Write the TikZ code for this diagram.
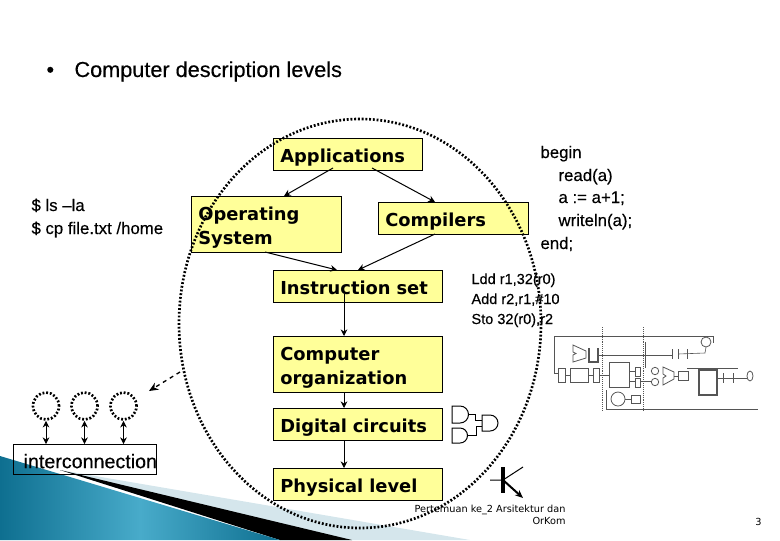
\documentclass[tikz,border=0pt]{standalone}
\usepackage{fontspec}
\setmainfont{Liberation Sans}
\newfontfamily\levelfont{DejaVu Sans}
\newfontfamily\footfont{DejaVu Sans}
\newfontfamily\plainfont[FakeBold=0.3]{Liberation Sans}
\usetikzlibrary{arrows.meta,calc,shapes.geometric}
\definecolor{levelyellow}{HTML}{FFFF99}
\definecolor{wedgedark}{HTML}{0E6F90}
\definecolor{wedgelight}{HTML}{48ABCA}
\definecolor{wedgepale}{HTML}{D5E6EC}
\definecolor{circgray}{HTML}{555555}
\tikzset{every picture/.style={line width=0.75pt}}
\tikzset{
  levelbox/.style={draw,fill=levelyellow,anchor=north west,inner sep=0pt,outer sep=0pt,minimum height=24pt,
    font=\levelfont\bfseries\fontsize{13.4}{18}\selectfont,align=left,text width=#1-11pt,minimum width=#1,inner xsep=5.5pt,text height=12pt,text depth=0pt},
  twoline/.style={minimum height=42pt,text height=10pt,text depth=16pt},
  plaintext/.style={anchor=base west,inner sep=0pt,font=\plainfont\fontsize{12.6}{14}\selectfont},
  asmtext/.style={plaintext,font=\plainfont\fontsize{10.9}{12}\selectfont},
  titletext/.style={plaintext,font=\plainfont\fontsize{16.26}{18}\selectfont},
  levelarrow/.style={-{Stealth[length=5pt,width=5pt]},line width=0.75pt},
  ringnode/.style={draw,ellipse,dash pattern=on 1.4pt off 1.4pt,line width=2pt,minimum width=19.5pt,minimum height=20.25pt,inner sep=0pt},
  wire/.style={circgray,line width=0.45pt},
  block/.style={circgray,line width=0.6pt}
}
\begin{document}
\begin{tikzpicture}[x=0.75pt,y=0.75pt,yscale=-1,xscale=1]
	\useasboundingbox (0,0) rectangle (780,540);
	
	%Bottom left wedge
	\fill [wedgepale] (60,470) -- (470,540) -- (280,540) -- cycle;
	\fill [black] (60,470) -- (352,540) -- (280,540) -- cycle;
	\shade [left color=wedgedark,right color=wedgedark,middle color=wedgelight] (0,456) -- (280,540) -- (0,540) -- cycle;
	
	% Title
	\node (bullet) [titletext] at (46,77) {•};
	\node (title) [titletext] at (74,77) {Computer description levels};
	
	% Level boxes
	\node (apps) [levelbox=112pt] at (273,138) {Applications};
	\node (os) [levelbox=112.5pt,twoline] at (191,196) {Operating\\System};
	\node (comp) [levelbox=112.5pt] at (378,202) {Compilers};
	\node (isa) [levelbox=127pt] at (273,270) {Instruction set};
	\node (org) [levelbox=127pt,twoline] at (273,336) {Computer\\organization};
	\node (dig) [levelbox=127pt] at (273,408) {Digital circuits};
	\node (phys) [levelbox=127pt] at (273,468) {Physical level};
	
	% Level arrows
	\draw [levelarrow] ($(apps.south west)+(60,-2)$) -- ($(os.north west)+(93,0)$);
	\draw [levelarrow] ($(apps.south west)+(99,-2)$) -- ($(comp.north west)+(57,0)$);
	\draw [levelarrow] ($(os.south west)+(74,0)$) -- ($(isa.north west)+(64,0)$);
	\draw [levelarrow] ($(comp.south west)+(57,0)$) -- ($(isa.north west)+(85,0)$);
	\draw [levelarrow] ($(isa.south west)+(71,-8)$) -- ($(org.north west)+(71,0)$);
	\draw [levelarrow] ($(org.south west)+(71,0)$) -- ($(dig.north west)+(71,0)$);
	\draw [levelarrow] ($(dig.south west)+(71,0)$) -- ($(phys.north west)+(71,0)$);
	
	% Side text
	\node (shella) [plaintext] at (31,211) {\$ ls –la};
	\node (shellb) [plaintext] at (31,234) {\$ cp file.txt /home};
	\node (srca) [plaintext] at (540,158) {begin};
	\node (srcb) [plaintext] at (558,181) {read(a)};
	\node (srcc) [plaintext] at (558,203) {a := a+1;};
	\node (srcd) [plaintext] at (558,226) {writeln(a);};
	\node (srce) [plaintext] at (540,249) {end;};
	\node (asma) [asmtext] at (471,284) {Ldd r1,32(r0)};
	\node (asmb) [asmtext] at (471,304) {Add r2,r1,\#10};
	\node (asmc) [asmtext] at (471,324) {Sto 32(r0),r2};
	
	% Interconnection
	\node (inter) [draw,anchor=north west,inner sep=0pt,minimum width=107.25pt,minimum height=22.5pt,text height=13pt,text depth=0pt,font=\plainfont\fontsize{14.75}{16}\selectfont] at (13,444) {\hspace*{4pt}interconnection\hspace*{-4pt}};
	\node (ringa) [ringnode] at (46,406) {};
	\node (ringb) [ringnode] at (84.5,406) {};
	\node (ringc) [ringnode] at (123.5,406) {};
	\foreach \r/\dx in {ringa/33,ringb/71.5,ringc/110.5}
		\draw [{Stealth[length=5pt,width=5pt]}-{Stealth[length=5pt,width=5pt]}] (\r.south) -- ($(inter.north west)+(\dx,0)$);
	
	%Big dotted outline
	\draw [line width=2pt,dash pattern=on 1.4pt off 1.4pt] (360,323.5) ellipse (181 and 204.5);
	
	%Dashed arrow
	\coordinate (dashstart) at (180,372);
	\coordinate (dashend) at (149,391);
	\draw [dashed,line width=1pt,-{Stealth[length=7pt,width=6pt]}] (dashstart) -- (dashend);
	
	%AND gates
	\draw (452,406) -- (460,406) arc (-90:90:8.5) -- (452,423) -- cycle;
	\draw (452,428) -- (460,428) arc (-90:90:7.5) -- (452,443) -- cycle;
	\draw (482,415) -- (490,415) arc (-90:90:8) -- (482,431) -- cycle;
	\draw (468.5,414) -- (475,414) -- (475,420) -- (482,420);
	\draw (467.5,435) -- (476,435) -- (476,426) -- (482,426);
	
	%Transistor
	\draw [line width=2.4pt] (503,467) -- (503,493);
	\draw (490,480) -- (503,480) -- (523,467);
	\draw [line width=1.5pt,-{Stealth[length=6pt,width=5pt]}] (503,480) -- (523,498);
	
	%Datapath sketch
	\draw [wire,densely dotted] (602,327) -- (602,412);
	\draw [wire,densely dotted] (643,327) -- (643,412);
	\draw [wire] (558,373) -- (554,373) -- (554,336) -- (713,336) -- (713,343);
	\draw [block] (706,342) ellipse (5 and 5);
	\draw [block] (573,345) -- (586,351) -- (586,358) -- (573,362) -- (573,355) -- (576,353.5) -- (573,352) -- cycle;
	\draw [block,line width=0.9pt] (589,348) -- (589,362) -- (598,362) -- (598,348);
	\draw [wire] (598,355) -- (672,355);
	\draw [wire] (678,354) -- (705,353) -- (706,347);
	\draw [block] (645,342) -- (645,368);
	\draw [block] (672,349) -- (672,359);
	\draw [block] (678,349) -- (678,359);
	\draw [block] (687,349) -- (687,359);
	\draw [block] (558,368) rectangle (565,382);
	\draw [block] (570,368) rectangle (588,382);
	\draw [block] (593,368) rectangle (599,382);
	\draw [wire] (565,375) -- (570,375);
	\draw [wire] (588,375) -- (593,375);
	\draw [wire] (599,375) -- (609,375);
	\draw [block] (609,362) rectangle (629,387);
	\draw [block] (635,367) rectangle (640,376);
	\draw [block] (635,378) rectangle (640,387);
	\draw [wire] (629,371) -- (635,371);
	\draw [wire] (629,381) -- (635,381);
	\draw [block] (655,371) circle (3.7);
	\draw [block] (655,382) circle (3.7);
	\draw [wire] (640,381) -- (651,381);
	\draw [block] (663,367) -- (674,372) -- (674,379) -- (663,385) -- (663,378) -- (666,376) -- (663,374) -- cycle;
	\draw [block] (678,371) rectangle (688,380);
	\draw [wire] (674,376) -- (678,376);
	\draw [wire] (687,368) -- (738,368);
	\draw [block,line width=0.9pt] (699,370) rectangle (717,395);
	\draw [wire] (717,378) -- (747,378);
	\draw [block] (723,373) -- (723,383);
	\draw [block] (733,373) -- (733,383);
	\draw [block] (750,376) ellipse (3 and 5);
	\draw [block] (618,399) circle (7);
	\draw [block] (631,395) rectangle (640,403);
	\draw [wire] (625,399) -- (631,399);
	\draw [wire] (606,390) -- (606,409) -- (758,409);
	
	% Footer
	\node (foot) [anchor=north east,inner sep=0pt,align=right,font=\footfont\fontsize{7.3}{9}\selectfont] at (566,505) {Pertemuan ke\_2 Arsitektur dan\\OrKom};
	\node (pagenum) [anchor=east,inner sep=0pt,font=\footfont\fontsize{7.3}{9}\selectfont] at (762,522) {3};
	
\end{tikzpicture}
\end{document}
